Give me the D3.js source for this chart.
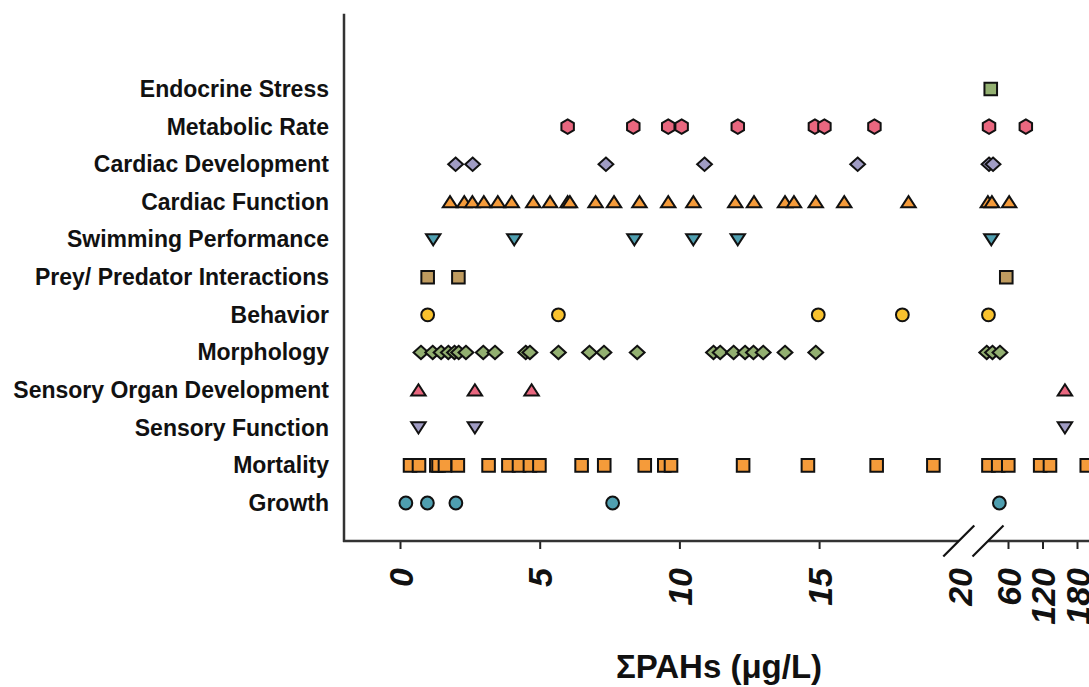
<!DOCTYPE html>
<html>
<head>
<meta charset="utf-8">
<script src="https://cdn.jsdelivr.net/npm/d3@7"></script>
<style>
  body { margin: 0; background: #fff; }
  text { font-family: "Liberation Sans", Arial, sans-serif; font-weight: bold; fill: #111; }
</style>
</head>
<body>
<script>
// categories, top to bottom
var categories = ["Endocrine Stress", "Metabolic Rate", "Cardiac Development", "Cardiac Function",
  "Swimming Performance", "Prey/ Predator Interactions", "Behavior", "Morphology",
  "Sensory Organ Development", "Sensory Function", "Mortality", "Growth"];

// ΣPAHs (µg/L) values
var endocrineStress = [30];
var metabolicRate = [6.0, 8.35, 9.6, 10.08, 12.09, 14.85, 15.19, 16.98, 27, 91];
var cardiacDevelopment = [1.99, 2.6, 7.37, 10.9, 16.38, 27, 34];
var cardiacFunction = [1.79, 2.3, 2.59, 3.0, 3.5, 4.0, 4.77, 5.37, 6.0, 6.08, 7.0, 7.66, 8.57, 9.6,
  10.5, 12.0, 12.67, 13.78, 14.1, 14.88, 15.9, 18.2, 25, 32, 62];
var swimmingPerformance = [1.19, 4.09, 8.39, 10.5, 12.09, 31];
var preyPredator = [0.99, 2.09, 57];
var behavior = [0.99, 5.67, 14.97, 17.98, 26];
var morphology = [0.75, 1.17, 1.47, 1.73, 1.95, 2.1, 2.36, 2.98, 3.4, 4.5, 4.65, 5.67, 6.78, 7.3,
  8.49, 11.22, 11.46, 11.94, 12.35, 12.65, 13.0, 13.78, 14.88, 23, 33, 46];
var sensoryOrganDevelopment = [0.66, 2.68, 4.71, 159];
var sensoryFunction = [0.66, 2.68, 159];
var mortality = [0.36, 0.68, 1.3, 1.38, 1.61, 2.07, 3.17, 3.88, 4.26, 4.65, 4.99, 6.5, 7.31, 8.76,
  9.46, 9.7, 12.28, 14.6, 17.06, 19.09, 26, 43, 60.5, 116, 133, 197];
var growth = [0.21, 0.98, 2.0, 7.61, 45];

var ticksLow = [0, 5, 10, 15, 20];
var ticksHigh = [60, 120, 180];

var series = [
  { name: "Endocrine Stress", values: endocrineStress, shape: "square", color: "#93b071" },
  { name: "Metabolic Rate", values: metabolicRate, shape: "hexagon", color: "#e9677f" },
  { name: "Cardiac Development", values: cardiacDevelopment, shape: "diamond", color: "#a09cc4" },
  { name: "Cardiac Function", values: cardiacFunction, shape: "triangleUp", color: "#f59b3a" },
  { name: "Swimming Performance", values: swimmingPerformance, shape: "triangleDown", color: "#4f9fb0" },
  { name: "Prey/ Predator Interactions", values: preyPredator, shape: "square", color: "#bf9b5f" },
  { name: "Behavior", values: behavior, shape: "circle", color: "#f9c22e" },
  { name: "Morphology", values: morphology, shape: "diamond", color: "#93b071" },
  { name: "Sensory Organ Development", values: sensoryOrganDevelopment, shape: "triangleUp", color: "#e9677f" },
  { name: "Sensory Function", values: sensoryFunction, shape: "triangleDown", color: "#a09cc4" },
  { name: "Mortality", values: mortality, shape: "square", color: "#f59b3a" },
  { name: "Growth", values: growth, shape: "circle", color: "#4f9fb0" }
];

var width = 1089, height = 687;
var axisX = 344, axisY = 541;

var svg = d3.select("body").append("svg")
    .attr("width", width)
    .attr("height", height);

// broken x axis: 0-20 linear, then 20-200 compressed
var xLow = d3.scaleLinear().domain([0, 20]).range([400, 958.8]);
var xHigh = d3.scaleLinear().domain([20, 200]).range([985, 1088.5]);
function xPos(v) { return v <= 20 ? xLow(v) : xHigh(v); }

var y = d3.scalePoint().domain(categories).range([89, 503]);
var step = y.step();

// custom marker shapes (size = half width in px)
var shapes = {
  square: { draw: function(c, s) { c.rect(-s, -s, 2 * s, 2 * s); } },
  circle: { draw: function(c, s) { c.moveTo(s, 0); c.arc(0, 0, s, 0, 2 * Math.PI); } },
  hexagon: { draw: function(c, s) {
    for (var i = 0; i < 6; i++) {
      var a = -Math.PI / 2 + i * Math.PI / 3;
      if (i === 0) c.moveTo(s * Math.cos(a), s * Math.sin(a)); else c.lineTo(s * Math.cos(a), s * Math.sin(a));
    }
    c.closePath();
  } },
  diamond: { draw: function(c, s) {
    c.moveTo(0, -s * 0.9); c.lineTo(s, 0); c.lineTo(0, s * 0.9); c.lineTo(-s, 0); c.closePath();
  } },
  triangleUp: { draw: function(c, s) {
    c.moveTo(0, -s * 0.8); c.lineTo(s, s * 0.75); c.lineTo(-s, s * 0.75); c.closePath();
  } },
  triangleDown: { draw: function(c, s) {
    c.moveTo(0, s * 0.8); c.lineTo(s, -s * 0.75); c.lineTo(-s, -s * 0.75); c.closePath();
  } }
};
var shapeSize = { square: 6.3, circle: 6.4, hexagon: 7.2, diamond: 7.4, triangleUp: 7.2, triangleDown: 7.2 };

// y axis labels
var yAxis = svg.append("g")
    .attr("transform", "translate(" + axisX + ",0)")
    .call(d3.axisLeft(y).tickSize(0).tickPadding(15));
yAxis.select(".domain").remove();
yAxis.selectAll("text")
    .style("font-size", "23px")
    .style("font-family", "'Liberation Sans', Arial, sans-serif")
    .style("font-weight", "bold")
    .attr("fill", "#111");

// x axis ticks and labels
var xAxisLow = svg.append("g")
    .attr("transform", "translate(0," + axisY + ")")
    .call(d3.axisBottom(xLow).tickValues(ticksLow).tickSize(8));
var xAxisHigh = svg.append("g")
    .attr("transform", "translate(0," + axisY + ")")
    .call(d3.axisBottom(xHigh).tickValues(ticksHigh).tickSize(8));
[xAxisLow, xAxisHigh].forEach(function(g) {
  g.select(".domain").remove();
  g.selectAll(".tick line").attr("stroke", "#222").attr("stroke-width", 2);
  g.selectAll("text")
      .attr("transform", "rotate(-90)")
      .attr("x", -27)
      .attr("y", 0)
      .attr("dy", "0.36em")
      .style("text-anchor", "end")
      .style("font-size", "34px")
      .style("font-style", "italic")
      .style("font-weight", "bold")
      .style("font-family", "'Liberation Sans', Arial, sans-serif")
      .attr("fill", "#111");
});
// no tick at the break value
xAxisLow.selectAll(".tick").filter(function(d) { return d === 20; }).select("line").remove();

// axis lines
var lineColor = "#333";
svg.append("line")
    .attr("x1", axisX).attr("x2", axisX)
    .attr("y1", y(categories[0]) - 2 * step).attr("y2", axisY + 1)
    .attr("stroke", lineColor).attr("stroke-width", 2.5);
svg.append("line")
    .attr("x1", axisX - 1).attr("x2", xLow(20))
    .attr("y1", axisY).attr("y2", axisY)
    .attr("stroke", lineColor).attr("stroke-width", 2.5);
svg.append("line")
    .attr("x1", xHigh(20) + 3).attr("x2", width)
    .attr("y1", axisY).attr("y2", axisY)
    .attr("stroke", lineColor).attr("stroke-width", 2.5);

// break marks
[xLow(20), xHigh(20) + 3].forEach(function(cx) {
  svg.append("line")
      .attr("x1", cx - 15.5).attr("y1", axisY + 15.5)
      .attr("x2", cx + 15.5).attr("y2", axisY - 15.5)
      .attr("stroke", "#111").attr("stroke-width", 2.2);
});

// points
var symbol = d3.symbol();
series.forEach(function(s) {
  svg.append("g").selectAll("path")
    .data(s.values)
    .enter().append("path")
      .attr("transform", function(d) { return "translate(" + xPos(d) + "," + y(s.name) + ")"; })
      .attr("d", symbol.type(shapes[s.shape]).size(shapeSize[s.shape])())
      .attr("fill", s.color)
      .attr("stroke", "#111")
      .attr("stroke-width", 2);
});

// x axis title
svg.append("text")
    .attr("x", 719)
    .attr("y", 678)
    .attr("text-anchor", "middle")
    .style("font-size", "33px")
    .text("\u03A3PAHs (\u03BCg/L)");
</script>
</body>
</html>
